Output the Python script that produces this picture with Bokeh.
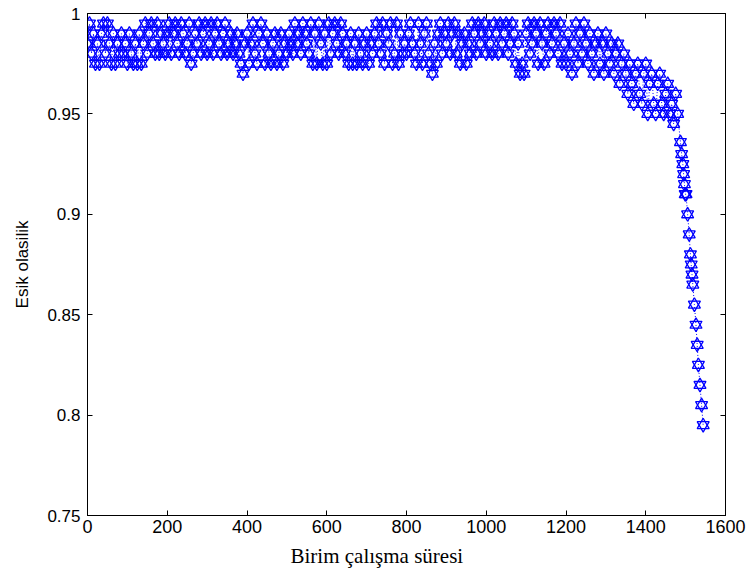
from bokeh.plotting import figure
from bokeh.models import LinearAxis, FixedTicker, Range1d, Title, ColumnDataSource
from bokeh.embed import file_html
from bokeh.resources import INLINE

# ---- data ----
# flat region, sampled every 5 time units from 0 to 1245
v_flat = [
    # 0-95
    0.985, 0.995, 0.98, 0.99, 0.975, 0.985, 0.975, 0.99, 0.995, 0.98,
    0.995, 0.985, 0.975, 0.99, 0.975, 0.985, 0.98, 0.99, 0.98, 0.985,
    # 100-195
    0.975, 0.99, 0.98, 0.975, 0.985, 0.975, 0.99, 0.975, 0.985, 0.995,
    0.98, 0.99, 0.995, 0.985, 0.98, 0.995, 0.98, 0.99, 0.985, 0.98,
    # 200-295
    0.99, 0.995, 0.98, 0.99, 0.995, 0.985, 0.98, 0.995, 0.99, 0.98,
    0.985, 0.995, 0.975, 0.98, 0.99, 0.985, 0.995, 0.98, 0.99, 0.995,
    # 300-395
    0.98, 0.985, 0.995, 0.98, 0.99, 0.995, 0.985, 0.98, 0.99, 0.995,
    0.98, 0.985, 0.99, 0.98, 0.985, 0.99, 0.98, 0.975, 0.97, 0.985,
    # 400-495
    0.99, 0.975, 0.985, 0.995, 0.98, 0.975, 0.99, 0.995, 0.985, 0.975,
    0.99, 0.98, 0.975, 0.985, 0.99, 0.975, 0.98, 0.99, 0.975, 0.985,
    # 500-595
    0.98, 0.99, 0.985, 0.98, 0.995, 0.985, 0.99, 0.98, 0.995, 0.99,
    0.985, 0.98, 0.995, 0.975, 0.99, 0.975, 0.995, 0.985, 0.975, 0.99,
    # 600-695
    0.975, 0.995, 0.98, 0.99, 0.995, 0.985, 0.98, 0.995, 0.99, 0.98,
    0.985, 0.975, 0.99, 0.975, 0.985, 0.975, 0.99, 0.98, 0.975, 0.985,
    # 700-795
    0.99, 0.975, 0.985, 0.98, 0.99, 0.995, 0.985, 0.98, 0.995, 0.975,
    0.99, 0.985, 0.995, 0.975, 0.98, 0.995, 0.975, 0.99, 0.98, 0.985,
    # 800-895
    0.98, 0.99, 0.995, 0.985, 0.98, 0.975, 0.995, 0.985, 0.975, 0.99,
    0.995, 0.98, 0.975, 0.97, 0.985, 0.975, 0.99, 0.995, 0.98, 0.99,
    # 900-995
    0.985, 0.995, 0.98, 0.99, 0.995, 0.98, 0.99, 0.975, 0.985, 0.99,
    0.975, 0.985, 0.98, 0.995, 0.99, 0.98, 0.995, 0.985, 0.99, 0.995,
    # 1000-1095
    0.98, 0.99, 0.985, 0.98, 0.995, 0.99, 0.98, 0.995, 0.985, 0.99,
    0.995, 0.98, 0.985, 0.995, 0.99, 0.975, 0.985, 0.97, 0.975, 0.97,
    # 1100-1195
    0.99, 0.995, 0.98, 0.985, 0.995, 0.99, 0.975, 0.995, 0.985, 0.975,
    0.99, 0.995, 0.98, 0.985, 0.995, 0.99, 0.98, 0.995, 0.975, 0.985,
    # 1200-1245
    0.975, 0.99, 0.98, 0.97, 0.985, 0.995, 0.975, 0.99, 0.98, 0.995,
]
t_flat = [5 * i for i in range(len(v_flat))]

# beginning of the decline, every 5 units from 1250
v_decl = [
    0.985, 0.975, 0.99, 0.98, 0.97, 0.985, 0.99, 0.975, 0.985, 0.97,
    0.99, 0.98, 0.975, 0.985, 0.97, 0.98, 0.985, 0.965, 0.975, 0.98,
    0.97, 0.96, 0.975, 0.965, 0.955, 0.97, 0.975, 0.96, 0.955, 0.97,
    0.975, 0.95, 0.965, 0.97, 0.955, 0.95, 0.965, 0.97, 0.955, 0.95,
    0.96, 0.965, 0.95, 0.955, 0.945, 0.96, 0.95,
]
t_decl = [1250 + 5 * i for i in range(len(v_decl))]

# steep tail
t_tail = [1487, 1490, 1493, 1495, 1497, 1499, 1501, 1505, 1509, 1512,
          1514, 1516, 1518, 1522, 1526, 1529, 1532, 1536, 1540, 1544]
v_tail = [0.936, 0.93, 0.925, 0.92, 0.915, 0.91, 0.91, 0.90, 0.89, 0.88,
          0.875, 0.87, 0.865, 0.855, 0.845, 0.835, 0.825, 0.815, 0.805, 0.795]

x_ticks = [0, 200, 400, 600, 800, 1000, 1200, 1400, 1600]
y_ticks = [0.75, 0.8, 0.85, 0.9, 0.95, 1.0]
y_tick_labels = {0.75: "0.75", 0.8: "0.8", 0.85: "0.85", 0.9: "0.9", 0.95: "0.95", 1.0: "1"}

x_label = "Birim çalışma süresi"
y_label = "Esik olasilik"

t_all = t_flat + t_decl + t_tail
v_all = v_flat + v_decl + v_tail
src = ColumnDataSource(dict(t=t_all, v=v_all))

p = figure(width=752, height=579,
           x_range=Range1d(0, 1600), y_range=Range1d(0.75, 1.0),
           output_backend="svg", toolbar_location=None,
           min_border_left=87, min_border_right=27,
           min_border_top=13, min_border_bottom=64,
           background_fill_color="white", border_fill_color="white",
           outline_line_color="black", outline_line_width=1)
p.grid.visible = False

BLUE = "#0000ff"
p.line("t", "v", source=src, line_color=BLUE, line_width=1, line_dash="1 2")
for mk in ("triangle", "inverted_triangle"):
    p.scatter("t", "v", source=src, marker=mk, size=12,
              fill_color=None, line_color=BLUE, line_width=1.3)

tick_font = "Liberation Sans"
for ax in (p.xaxis[0], p.yaxis[0]):
    ax.major_tick_in = 5
    ax.major_tick_out = 0
    ax.minor_tick_line_color = None
    ax.axis_line_color = "black"
    ax.major_tick_line_color = "black"
    ax.major_label_text_color = "black"
    ax.major_label_text_font = tick_font

p.xaxis[0].ticker = FixedTicker(ticks=x_ticks)
p.xaxis[0].major_label_text_font_size = "18px"
p.xaxis[0].major_label_standoff = 4

p.yaxis[0].ticker = FixedTicker(ticks=y_ticks)
p.yaxis[0].major_label_overrides = y_tick_labels
p.yaxis[0].major_label_text_font_size = "17px"
p.yaxis[0].major_label_standoff = 7
p.yaxis[0].axis_label = y_label
p.yaxis[0].axis_label_text_font = "Liberation Sans"
p.yaxis[0].axis_label_text_font_style = "normal"
p.yaxis[0].axis_label_text_color = "black"
p.yaxis[0].axis_label_text_font_size = "17px"
p.yaxis[0].axis_label_standoff = 12

# top and right axes: ticks only, no labels (MATLAB box)
top = LinearAxis(ticker=FixedTicker(ticks=x_ticks), major_tick_in=5, major_tick_out=0,
                 minor_tick_line_color=None, major_label_text_color=None,
                 major_label_overrides={t: "" for t in x_ticks},
                 major_label_text_font_size="1px",
                 major_label_standoff=0, axis_line_color="black")
right = LinearAxis(ticker=FixedTicker(ticks=y_ticks), major_tick_in=5, major_tick_out=0,
                   minor_tick_line_color=None, major_label_text_color=None,
                   major_label_overrides={t: "" for t in y_ticks},
                   major_label_text_font_size="1px",
                   major_label_standoff=0, axis_line_color="black")
p.add_layout(top, "above")
p.add_layout(right, "right")

p.add_layout(Title(text=x_label, align="left", offset=203, standoff=13,
                   text_font="Liberation Serif", text_font_size="21px",
                   text_font_style="normal", text_color="black"), "below")

open("out.html", "w").write(file_html(p, INLINE))
